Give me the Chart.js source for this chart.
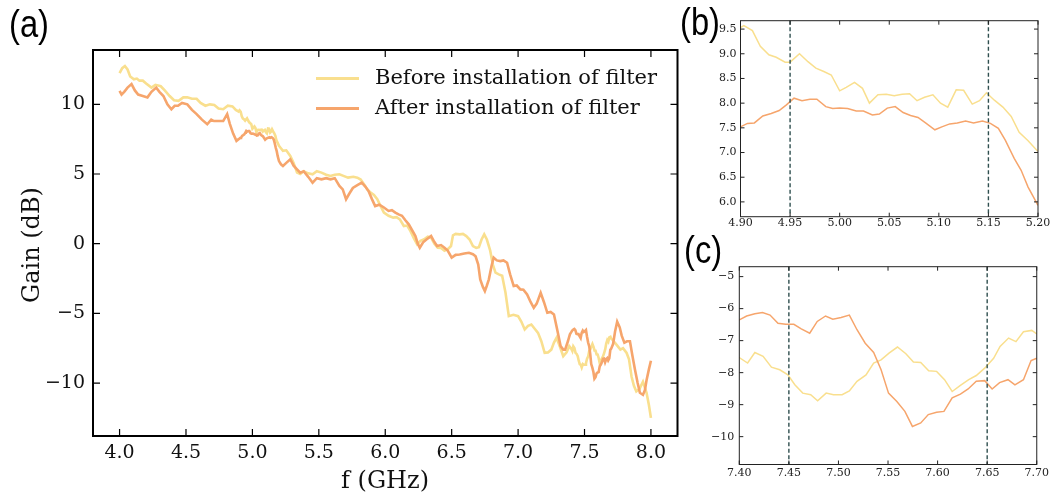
<!DOCTYPE html>
<html><head><meta charset="utf-8">
<script src="https://cdn.jsdelivr.net/npm/chart.js@4.4.1/dist/chart.umd.min.js"></script>
<style>
body{margin:0;background:#fff;}
#wrap{position:relative;width:1051px;height:497px;overflow:hidden;background:#fff;}
canvas{position:absolute;}
.pl{position:absolute;font-family:'Liberation Sans Narrow','Liberation Sans',sans-serif;font-size:38px;line-height:1;color:#000;transform:scaleX(0.86);transform-origin:0 0;}
.tt{position:absolute;font-family:'DejaVu Serif',serif;font-size:24px;line-height:1;color:#111;white-space:nowrap;}
.lg{position:absolute;font-family:'DejaVu Serif',serif;font-size:21px;line-height:1;color:#111;white-space:nowrap;}
.ls{position:absolute;height:3px;width:43px;}
</style></head>
<body><div id="wrap">
<canvas id="ca" width="700" height="497" style="left:0;top:0"></canvas>
<canvas id="cb" width="351" height="240" style="left:700px;top:0"></canvas>
<canvas id="cc" width="351" height="257" style="left:700px;top:240px"></canvas>
<div class="pl" style="left:9px;top:5px">(a)</div>
<div class="pl" style="left:680px;top:3px">(b)</div>
<div class="pl" style="left:684px;top:231px">(c)</div>
<div class="tt" style="left:385px;top:480px;transform:translate(-50%,-50%)">f (GHz)</div>
<div class="tt" style="left:31px;top:245px;transform:translate(-50%,-50%) rotate(-90deg)">Gain (dB)</div>
<div class="ls" id="lsb" style="left:316px;top:77px"></div>
<div class="lg" style="left:375px;top:67px">Before installation of filter</div>
<div class="ls" id="lsa" style="left:316px;top:107px"></div>
<div class="lg" style="left:375px;top:97px">After installation of filter</div>
</div>
<script>
const beforeLabel = 'Before installation of filter';
const afterLabel = 'After installation of filter';
const beforeColor = '#F9DF8E';
const afterColor = '#F6A56C';

const beforeF = [4.000,4.020,4.040,4.060,4.080,4.108,4.130,4.150,4.175,4.200,4.240,4.270,4.310,4.340,4.377,4.410,4.444,4.480,4.510,4.545,4.580,4.610,4.646,4.680,4.713,4.745,4.780,4.815,4.850,4.875,4.896,
4.9034,4.912,4.920,4.9286,4.936,4.945,4.950,4.9595,4.968,4.976,4.984,4.9915,5.000,5.0066,5.015,5.023,5.030,5.0386,5.047,5.055,5.063,5.0705,5.078,5.0856,5.094,5.1017,5.109,5.1175,5.125,5.1337,5.141,5.148,5.156,5.1646,5.173,5.181,5.190,5.200,
5.210,5.230,5.255,5.285,5.310,5.336,5.360,5.386,5.420,5.453,5.485,5.520,5.555,5.588,5.620,5.655,5.690,5.720,5.760,5.790,5.815,5.840,5.865,5.890,5.915,5.940,5.965,5.990,6.025,6.060,6.085,6.110,6.140,6.165,6.190,6.215,6.240,6.265,6.290,6.320,6.345,6.370,6.395,6.420,6.446,6.475,6.495,6.510,6.530,6.560,6.585,6.610,6.635,6.660,6.685,6.705,6.725,6.745,6.765,6.790,6.810,6.830,6.855,6.880,6.905,6.930,6.965,7.000,7.025,7.050,7.075,7.100,7.125,7.150,7.175,7.200,7.225,7.250,7.270,7.290,7.315,7.340,7.365,7.385,
7.4000,7.4084,7.4157,7.424,7.4324,7.4408,7.449,7.456,7.464,7.472,7.479,7.4876,7.495,7.5037,7.511,7.5187,7.5278,7.5355,7.543,7.551,7.5595,7.568,7.5756,7.583,7.591,7.599,7.607,7.6147,7.623,7.6314,7.639,7.6475,7.6565,7.663,7.6716,7.679,7.6866,7.695,7.700,
7.720,7.745,7.770,7.790,7.817,7.835,7.854,7.872,7.890,7.915,7.940,7.967,7.985,8.000];
const beforeG = [12.24,12.6,12.75,12.5,12.0,11.8,11.85,11.7,11.7,11.5,11.2,11.4,11.3,11.0,10.6,10.3,10.25,10.5,10.5,10.4,10.4,10.1,9.9,10.0,9.95,9.7,9.65,9.9,9.85,9.6,9.48,
9.57,9.47,9.15,8.98,8.93,8.83,8.83,9.0,8.84,8.71,8.64,8.57,8.25,8.32,8.42,8.30,8.00,8.17,8.18,8.15,8.18,8.19,8.05,8.12,8.17,8.00,7.92,8.27,8.26,7.98,8.05,8.21,8.06,7.92,7.73,7.41,7.24,7.02,
6.9,6.66,6.7,6.3,5.8,5.1,5.0,5.2,5.05,4.98,5.2,5.1,4.95,4.86,4.95,4.98,4.85,4.74,4.8,4.74,4.6,4.26,3.9,3.66,3.5,3.19,2.7,2.23,2.0,1.87,1.9,1.75,1.27,1.3,0.9,0.4,-0.05,0.2,0.3,0.5,0.43,0.0,-0.29,-0.3,-0.5,-0.35,-0.17,0.6,0.7,0.67,0.7,0.55,0.3,-0.17,-0.3,-0.25,0.3,0.67,0.3,-0.5,-1.5,-2.08,-2.2,-2.3,-3.5,-5.2,-5.1,-5.2,-5.6,-6.15,-5.9,-5.8,-6.1,-6.4,-7.0,-7.83,-7.8,-7.6,-7.1,-6.75,-7.4,-8.07,-7.8,-7.35,
-7.53,-7.70,-7.37,-7.49,-7.83,-7.91,-8.07,-8.38,-8.64,-8.69,-8.88,-8.64,-8.69,-8.69,-8.57,-8.27,-8.07,-7.70,-7.60,-7.39,-7.20,-7.41,-7.67,-7.68,-7.94,-7.96,-8.22,-8.59,-8.40,-8.22,-8.09,-7.86,-7.55,-7.18,-6.92,-7.03,-6.72,-6.68,-6.79,
-7.0,-7.3,-7.6,-7.5,-7.84,-8.3,-9.53,-10.2,-10.6,-10.4,-9.9,-10.7,-11.6,-12.5];

const afterF = [4.000,4.015,4.035,4.060,4.090,4.115,4.140,4.175,4.210,4.240,4.276,4.300,4.330,4.360,4.390,4.415,4.440,4.470,4.510,4.545,4.580,4.620,4.660,4.690,4.710,4.745,4.780,4.810,4.830,4.855,4.880,4.896,
4.900,4.907,4.914,4.9225,4.931,4.939,4.946,4.950,4.954,4.962,4.970,4.977,4.986,4.993,5.000,5.008,5.0167,5.024,5.033,5.040,5.048,5.056,5.064,5.0715,5.079,5.0866,5.096,5.103,5.111,5.1186,5.127,5.135,5.144,5.152,5.160,5.167,5.176,5.183,5.190,5.200,
5.215,5.230,5.255,5.285,5.310,5.336,5.360,5.386,5.420,5.453,5.485,5.520,5.555,5.588,5.620,5.655,5.680,5.705,5.730,5.756,5.790,5.823,5.850,5.874,5.900,5.924,5.955,5.990,6.025,6.050,6.076,6.100,6.126,6.150,6.177,6.200,6.227,6.245,6.260,6.285,6.310,6.345,6.365,6.390,6.420,6.446,6.470,6.500,6.530,6.560,6.595,6.630,6.660,6.680,6.700,6.715,6.735,6.750,6.765,6.780,6.800,6.816,6.840,6.866,6.890,6.917,6.940,6.967,6.990,7.017,7.040,7.068,7.095,7.118,7.140,7.170,7.195,7.220,7.245,7.270,7.295,7.320,7.340,7.354,7.375,7.390,
7.4000,7.4074,7.4157,7.4234,7.431,7.439,7.4468,7.455,7.4625,7.471,7.4786,7.487,7.4943,7.5027,7.511,7.5187,7.527,7.5355,7.543,7.5505,7.5589,7.567,7.5746,7.583,7.5906,7.599,7.6064,7.6147,7.623,7.6308,7.639,7.6475,7.655,7.6625,7.671,7.678,7.6866,7.6943,7.700,
7.715,7.730,7.746,7.765,7.780,7.800,7.820,7.842,7.860,7.880,7.900,7.917,7.940,7.955,7.967,7.985,8.000];
const afterG = [10.97,10.7,10.9,11.2,11.45,11.0,10.7,10.6,10.5,10.9,11.2,10.9,10.6,10.0,9.65,9.9,9.9,10.1,10.0,9.6,9.3,8.9,8.57,8.9,8.8,8.8,8.8,9.3,8.6,7.9,7.38,7.5,
7.52,7.59,7.60,7.74,7.79,7.85,7.96,8.03,8.10,8.05,8.08,8.08,7.93,7.89,7.90,7.89,7.84,7.84,7.76,7.78,7.90,7.93,7.81,7.75,7.71,7.60,7.46,7.52,7.58,7.60,7.64,7.60,7.64,7.59,7.49,7.25,6.88,6.64,6.30,5.93,
5.7,5.58,5.8,6.06,5.6,5.34,5.1,5.2,4.8,4.38,4.7,4.62,4.7,4.62,4.7,4.14,3.9,3.19,3.6,4.0,4.2,4.38,4.1,3.78,3.2,2.7,2.8,2.6,2.35,2.4,2.23,2.1,2.0,1.7,1.39,1.0,0.55,0.0,-0.29,0.1,0.3,0.55,0.2,-0.17,-0.1,-0.29,-0.5,-1.0,-0.8,-0.77,-0.7,-0.65,-0.75,-0.9,-1.5,-2.56,-3.1,-3.4,-3.0,-2.56,-1.6,-1.0,-1.2,-1.25,-1.2,-1.37,-2.2,-3.04,-3.0,-3.28,-3.3,-3.64,-4.2,-4.6,-4.3,-3.52,-4.2,-4.96,-4.9,-5.08,-6.2,-7.35,-7.6,-7.6,-7.0,-6.5,
-6.35,-6.23,-6.16,-6.12,-6.20,-6.46,-6.49,-6.49,-6.63,-6.77,-6.40,-6.23,-6.33,-6.28,-6.20,-6.66,-7.08,-7.37,-7.91,-8.64,-8.90,-9.21,-9.68,-9.57,-9.31,-9.24,-9.21,-8.79,-8.67,-8.51,-8.27,-8.25,-8.51,-8.31,-8.22,-8.38,-8.22,-7.62,-7.55,
-7.2,-6.3,-5.6,-6.0,-6.6,-7.1,-7.0,-7.0,-8.0,-9.05,-10.0,-10.7,-10.85,-10.5,-9.8,-9.0,-8.4];

const xTicksA = [4.0,4.5,5.0,5.5,6.0,6.5,7.0,7.5,8.0];
const yTicksA = [-10,-5,0,5,10];
const xTicksB = [4.90,4.95,5.00,5.05,5.10,5.15,5.20];
const yTicksB = [6.0,6.5,7.0,7.5,8.0,8.5,9.0,9.5];
const xTicksC = [7.40,7.45,7.50,7.55,7.60,7.65,7.70];
const yTicksC = [-10,-9,-8,-7,-6,-5];
const markersB = [4.95,5.15];
const markersC = [7.45,7.65];

document.getElementById('lsb').style.background = beforeColor;
document.getElementById('lsa').style.background = afterColor;

const pts = (F,G) => F.map((f,i)=>({x:f,y:G[i]}));
const minus = s => String(s).replace('-', '\u2212');

const framePlugin = {
  id: 'frame',
  afterDatasetsDraw(chart, args, o) {
    const {ctx, chartArea:a, scales:{x,y}} = chart;
    ctx.save();
    if (o.markers) {
      ctx.strokeStyle = '#2F4F4F'; ctx.lineWidth = 1.4; ctx.setLineDash([4,2.5]);
      o.markers.forEach(v => { const p = x.getPixelForValue(v); ctx.beginPath(); ctx.moveTo(p,a.top); ctx.lineTo(p,a.bottom); ctx.stroke(); });
      ctx.setLineDash([]);
    }
    ctx.strokeStyle = o.color; ctx.lineWidth = o.tickWidth;
    x.ticks.forEach(t => { const p = x.getPixelForValue(t.value); ctx.beginPath(); ctx.moveTo(p,a.bottom); ctx.lineTo(p,a.bottom-o.len); ctx.moveTo(p,a.top); ctx.lineTo(p,a.top+o.len); ctx.stroke(); });
    y.ticks.forEach(t => { const p = y.getPixelForValue(t.value); ctx.beginPath(); ctx.moveTo(a.left,p); ctx.lineTo(a.left+o.len,p); ctx.moveTo(a.right,p); ctx.lineTo(a.right-o.len,p); ctx.stroke(); });
    ctx.lineWidth = o.frameWidth;
    ctx.strokeRect(a.left, a.top, a.right-a.left, a.bottom-a.top);
    ctx.restore();
  }
};

function makeChart(id, o) {
  return new Chart(document.getElementById(id), {
    type: 'line',
    data: { datasets: [
      { label: beforeLabel, data: pts(beforeF, beforeG), borderColor: beforeColor, borderWidth: o.lw, pointRadius: 0, tension: 0, order: 2 },
      { label: afterLabel, data: pts(afterF, afterG), borderColor: afterColor, borderWidth: o.lw, pointRadius: 0, tension: 0, order: 1 }
    ]},
    options: {
      responsive: false, animation: false, devicePixelRatio: 1,
      layout: { padding: o.pad },
      plugins: { legend: {display:false}, tooltip: {enabled:false}, frame: o.frame },
      scales: {
        x: { type: 'linear', min: o.xmin, max: o.xmax,
             afterBuildTicks: s => { s.ticks = o.xt.map(v=>({value:v})); },
             afterFit: s => { s.height = o.xh; },
             grid: {display:false, drawTicks:false}, border: {display:false},
             ticks: { autoSkip:false, maxRotation:0, padding: o.xpad, color: o.tc, font: {family:'DejaVu Serif', size:o.fs}, callback: o.xf } },
        y: { type: 'linear', min: o.ymin, max: o.ymax,
             afterBuildTicks: s => { s.ticks = o.yt.map(v=>({value:v})); },
             afterFit: s => { s.width = o.yw; },
             grid: {display:false, drawTicks:false}, border: {display:false},
             ticks: { autoSkip:false, padding: o.ypad, color: o.tc, font: {family:'DejaVu Serif', size:o.fs}, callback: o.yf } }
      }
    },
    plugins: [framePlugin]
  });
}

makeChart('ca', { lw: 2.6, pad: {left:0, top:50, right:22.5, bottom:0}, xh: 61, yw: 93,
  xmin: 3.8, xmax: 8.2, ymin: -13.8, ymax: 13.9, xt: xTicksA, yt: yTicksA, fs: 19, tc: '#111',
  xpad: 6, ypad: 8, xf: v => v.toFixed(1), yf: v => minus(v),
  frame: { color:'#000', tickWidth:1.2, len:7, frameWidth:2 } });

makeChart('cb', { lw: 1.5, pad: {left:0, top:20.7, right:13, bottom:0}, xh: 23.3, yw: 40.5,
  xmin: 4.90, xmax: 5.20, ymin: 5.7, ymax: 9.67, xt: xTicksB, yt: yTicksB, fs: 11, tc: '#222',
  xpad: 0, ypad: 4, xf: v => v.toFixed(2), yf: v => v.toFixed(1),
  frame: { color:'#222', tickWidth:1, len:4, frameWidth:1, markers: markersB } });

makeChart('cc', { lw: 1.5, pad: {left:0, top:26.7, right:13, bottom:0}, xh: 32.5, yw: 39.3,
  xmin: 7.40, xmax: 7.70, ymin: -10.87, ymax: -4.69, xt: xTicksC, yt: yTicksC, fs: 11, tc: '#222',
  xpad: 2, ypad: 5, xf: v => v.toFixed(2), yf: v => minus(v),
  frame: { color:'#222', tickWidth:1, len:4, frameWidth:1, markers: markersC } });
</script>
</body></html>
